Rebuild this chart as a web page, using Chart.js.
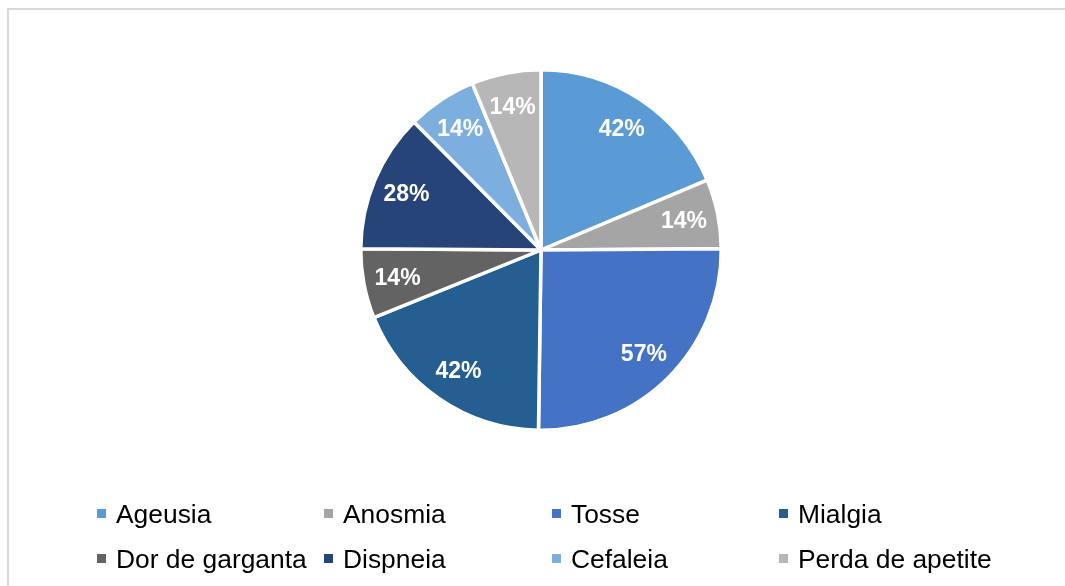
<!DOCTYPE html>
<html>
<head>
<meta charset="utf-8">
<script src="https://cdn.jsdelivr.net/npm/chart.js@4/dist/chart.umd.min.js"></script>
<style>
  html, body { margin: 0; padding: 0; background: #fff; overflow: hidden; }
  #wrap { position: relative; width: 1065px; height: 586px; }
  #frame { position: absolute; left: 7px; top: 8px; width: 1100px; height: 700px; border: 2px solid #d9d9d9; box-sizing: border-box; }
  canvas { position: absolute; left: 0; top: 0; }
  .lg { position: absolute; font-family: "Liberation Sans", Arial, sans-serif; font-size: 26.4px; color: #000; white-space: nowrap; line-height: 30px; }
  .lg i { position: absolute; width: 9px; height: 9px; left: 0; top: 10px; }
  .lg span { position: absolute; left: 19px; top: 0; }
</style>
</head>
<body>
<div id="wrap">
  <div id="frame"></div>
  <canvas id="c" width="1065" height="586"></canvas>
  <div id="legend"></div>
</div>
<script>
const categories = ["Ageusia", "Anosmia", "Tosse", "Mialgia", "Dor de garganta", "Dispneia", "Cefaleia", "Perda de apetite"];
const values = [42, 14, 57, 42, 14, 28, 14, 14];
const colors = ["#5B9BD5", "#A5A5A5", "#4472C4", "#255E91", "#636363", "#264478", "#7CAFDD", "#B7B7B7"];

const labelPlugin = {
  id: 'sliceLabels',
  afterDatasetsDraw(chart) {
    const ctx = chart.ctx;
    const meta = chart.getDatasetMeta(0);
    ctx.save();
    ctx.font = 'bold 23px "Liberation Sans", Arial, sans-serif';
    ctx.fillStyle = '#ffffff';
    ctx.textAlign = 'center';
    ctx.textBaseline = 'middle';
    meta.data.forEach((arc, i) => {
      const p = arc.getProps(['x', 'y', 'startAngle', 'endAngle', 'outerRadius'], true);
      const mid = (p.startAngle + p.endAngle) / 2;
      const r = p.outerRadius * 0.81;
      ctx.fillText(values[i] + '%', p.x + Math.cos(mid) * r, p.y + Math.sin(mid) * r + 1);
    });
    ctx.restore();
  }
};

new Chart(document.getElementById('c'), {
  type: 'pie',
  data: {
    labels: categories,
    datasets: [{
      data: values,
      backgroundColor: colors,
      borderColor: '#ffffff',
      borderWidth: 3.5
    }]
  },
  options: {
    responsive: false,
    animation: false,
    layout: { padding: { top: 68, bottom: 154, left: 17, right: 0 } },
    plugins: {
      legend: { display: false },
      tooltip: { enabled: false }
    }
  },
  plugins: [labelPlugin]
});

// legend
const legend = document.getElementById('legend');
const colX = [97, 324, 552, 779];
const rowY = [499, 544];
categories.forEach((name, i) => {
  const d = document.createElement('div');
  d.className = 'lg';
  d.style.left = colX[i % 4] + 'px';
  d.style.top = rowY[Math.floor(i / 4)] + 'px';
  const m = document.createElement('i');
  m.style.background = colors[i];
  const s = document.createElement('span');
  s.textContent = name;
  d.appendChild(m);
  d.appendChild(s);
  legend.appendChild(d);
});
</script>
</body>
</html>
